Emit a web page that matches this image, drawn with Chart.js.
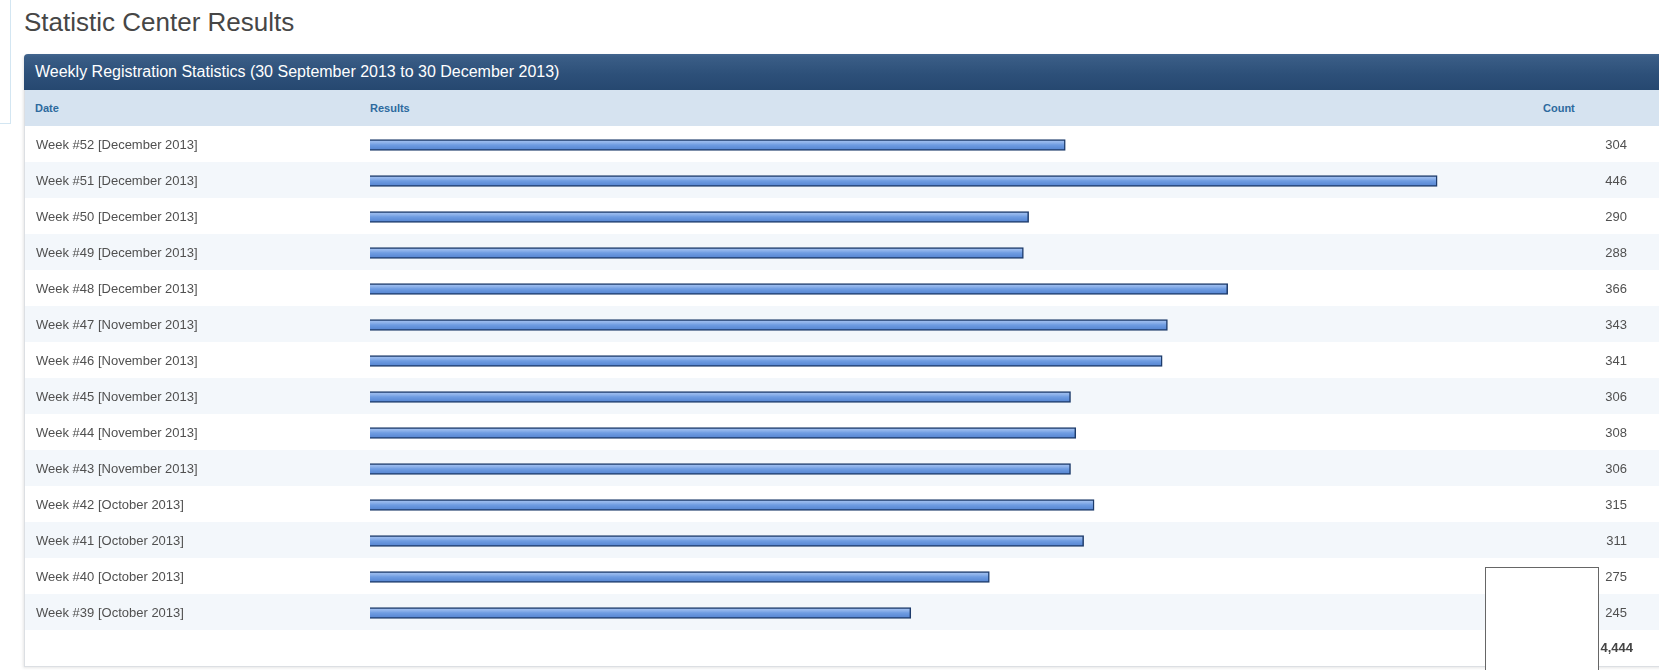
<!DOCTYPE html>
<html>
<head>
<meta charset="utf-8">
<script src="https://cdn.jsdelivr.net/npm/chart.js@4/dist/chart.umd.min.js"></script>
<style>
  html, body { margin:0; padding:0; width:1659px; height:670px; overflow:hidden; background:#fff;
    font-family:"Liberation Sans", Arial, sans-serif; }
  .side { position:absolute; left:-1px; top:-1px; width:10px; height:123px; border:1px solid #d3e6f2; background:#fff; }
  .title { position:absolute; left:24px; top:9px; font-size:26px; line-height:26px; color:#464646; white-space:nowrap; }
  .panel { position:absolute; left:24px; top:54px; width:1700px; height:612px; border:1px solid #dcdfe3; border-top:none;
    border-radius:4px 4px 0 0; box-shadow:-1px 1px 3px rgba(0,0,0,0.10); background:#fff; }
  .phead { position:absolute; left:-1px; top:0; right:-1px; height:36px; border-radius:4px 4px 0 0;
    background:linear-gradient(#43668f 0px, #3a5d86 3px, #2d5079 20px, #264870 36px); }
  .phead span { position:absolute; left:11px; top:9px; color:#fff; font-size:16px; line-height:18px; white-space:nowrap; }
  .colhead { position:absolute; left:0; top:36px; right:0; height:36px; background:#d6e3f0; }
  .colhead span { position:absolute; top:12px; font-size:11px; line-height:12px; font-weight:bold; color:#2d6a9e; }
  .total { position:absolute; font-size:13px; font-weight:bold; color:#444; line-height:16px; }
  #wrap { position:absolute; left:25px; top:106px; width:1634px; height:544px; }
  .box { position:absolute; left:1485px; top:567px; width:112px; height:120px; border:1px solid #666; background:#fff; }
</style>
</head>
<body>
<div class="side"></div>
<div class="title">Statistic Center Results</div>
<div class="panel">
  <div class="phead"><span>Weekly Registration Statistics (30 September 2013 to 30 December 2013)</span></div>
  <div class="colhead"><span style="left:10px">Date</span><span style="left:345px">Results</span><span style="left:1518px">Count</span></div>
</div>
<div id="wrap"><canvas id="c"></canvas></div>
<div class="total" id="total" style="right:26px; top:640px;"></div>
<div class="box"></div>
<script>
const weekLabels = [
  "Week #52 [December 2013]", "Week #51 [December 2013]", "Week #50 [December 2013]",
  "Week #49 [December 2013]", "Week #48 [December 2013]", "Week #47 [November 2013]",
  "Week #46 [November 2013]", "Week #45 [November 2013]", "Week #44 [November 2013]",
  "Week #43 [November 2013]", "Week #42 [October 2013]", "Week #41 [October 2013]",
  "Week #40 [October 2013]", "Week #39 [October 2013]"
];
const counts = [304, 446, 290, 288, 366, 343, 341, 306, 308, 306, 315, 311, 275, 245];
const countLabels = counts.map(v => String(v));
const axisMin = 38.5;
const axisMax = 470;

const total = counts.reduce((a, b) => a + b, 0);
document.getElementById('total').textContent = total.toLocaleString('en-US');

Chart.defaults.font.family = "'Liberation Sans', Arial, sans-serif";
Chart.defaults.font.size = 13;
Chart.defaults.color = '#555';

const stripes = {
  id: 'stripes',
  beforeDraw(chart) {
    const { ctx, scales: { y }, width } = chart;
    const step = y.height / weekLabels.length;
    ctx.save();
    for (let i = 0; i < weekLabels.length; i++) {
      const c = y.getPixelForValue(i);
      ctx.fillStyle = (i % 2 === 1) ? '#f3f7fb' : '#ffffff';
      ctx.fillRect(0, c - step / 2 - 1, width, step);
    }
    ctx.restore();
  }
};

function barFill(c) {
  const s = c.chart.scales && c.chart.scales.y;
  if (!s || c.type !== 'data' || !isFinite(s.getPixelForValue(c.dataIndex))) return '#6d9be2';
  const yc = s.getPixelForValue(c.dataIndex);
  const g = c.chart.ctx.createLinearGradient(0, yc - 5.5, 0, yc + 5.5);
  g.addColorStop(0, '#a9c6f1');
  g.addColorStop(0.3, '#8cb1ea');
  g.addColorStop(0.5, '#6e9ce2');
  g.addColorStop(1, '#5282cf');
  return g;
}

new Chart(document.getElementById('c'), {
  type: 'bar',
  data: {
    labels: weekLabels,
    datasets: [{
      data: counts,
      backgroundColor: barFill,
      borderColor: '#1d3b6b',
      borderWidth: 1.5,
      borderSkipped: false,
      barThickness: 11
    }]
  },
  options: {
    indexAxis: 'y',
    responsive: true,
    maintainAspectRatio: false,
    animation: false,
    layout: { padding: { top: 21, bottom: 19, left: 11, right: 32 } },
    plugins: { legend: { display: false }, tooltip: { enabled: false } },
    scales: {
      x: { type: 'linear', min: axisMin, max: axisMax, display: false },
      y: {
        position: 'left',
        offset: true,
        grid: { display: false },
        border: { display: false },
        ticks: { crossAlign: 'far', autoSkip: false, padding: 0, color: '#505050', font: { size: 13 } },
        afterFit: s => { s.width = 334; }
      },
      y2: {
        type: 'category',
        labels: countLabels,
        position: 'right',
        offset: true,
        grid: { display: false },
        border: { display: false },
        ticks: { crossAlign: 'far', autoSkip: false, padding: 0, color: '#505050', font: { size: 13 } },
        afterFit: s => { s.width = 127; }
      }
    }
  },
  plugins: [stripes]
});
</script>
</body>
</html>
